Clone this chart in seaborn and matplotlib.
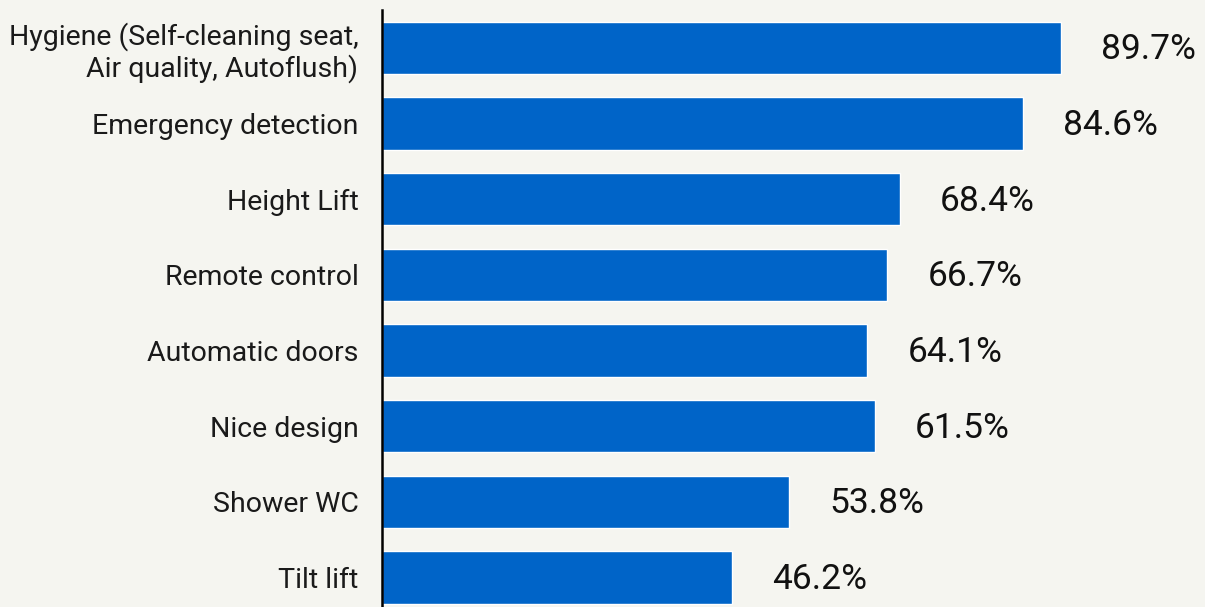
import matplotlib
matplotlib.use("Agg")
import matplotlib.pyplot as plt
import pandas as pd
import seaborn as sns

categories = [
    "Hygiene (Self-cleaning seat,\nAir quality, Autoflush)",
    "Emergency detection",
    "Height Lift",
    "Remote control",
    "Automatic doors",
    "Nice design",
    "Shower WC",
    "Tilt lift",
]
# bar lengths as drawn (the "Nice design" bar is drawn longer than its label)
bar_values = [89.7, 84.6, 68.4, 66.7, 64.1, 65.1, 53.8, 46.2]
value_labels = ["89.7%", "84.6%", "68.4%", "66.7%", "64.1%", "61.5%", "53.8%", "46.2%"]

BG = "#F5F5F0"
BAR = "#0064C8"

sns.set_theme(style="white")
plt.rcParams["font.family"] = ["Roboto", "DejaVu Sans"]

df = pd.DataFrame({"feature": categories, "value": bar_values})

fig = plt.figure(figsize=(12.05, 6.07), dpi=100, facecolor=BG)
ax = fig.add_axes([382 / 1205, 0.0, 1 - 382 / 1205, 1 - 10 / 607])
ax.set_facecolor(BG)

sns.barplot(data=df, y="feature", x="value", orient="h", color=BAR,
            width=0.69, saturation=1, ax=ax)

ax.set_xlim(0, 108.7)
ax.set_ylim(7.39, -0.5)
ax.set_xlabel("")
ax.set_ylabel("")
ax.set_xticks([])
ax.tick_params(axis="y", length=0, pad=17, labelsize=20.5, labelcolor="#1a1a1a")

for lbl in ax.get_yticklabels():
    lbl.set_linespacing(1.15)

for sp in ["top", "right", "bottom"]:
    ax.spines[sp].set_visible(False)
ax.spines["left"].set_color("black")
ax.spines["left"].set_linewidth(1.8)

for i, (v, t) in enumerate(zip(bar_values, value_labels)):
    ax.annotate(t, xy=(v, i), xytext=(29, -1.5), textcoords="offset points",
                ha="left", va="center", fontsize=25.5, color="#111111")

fig.savefig("out.png", dpi=100, facecolor=BG)
